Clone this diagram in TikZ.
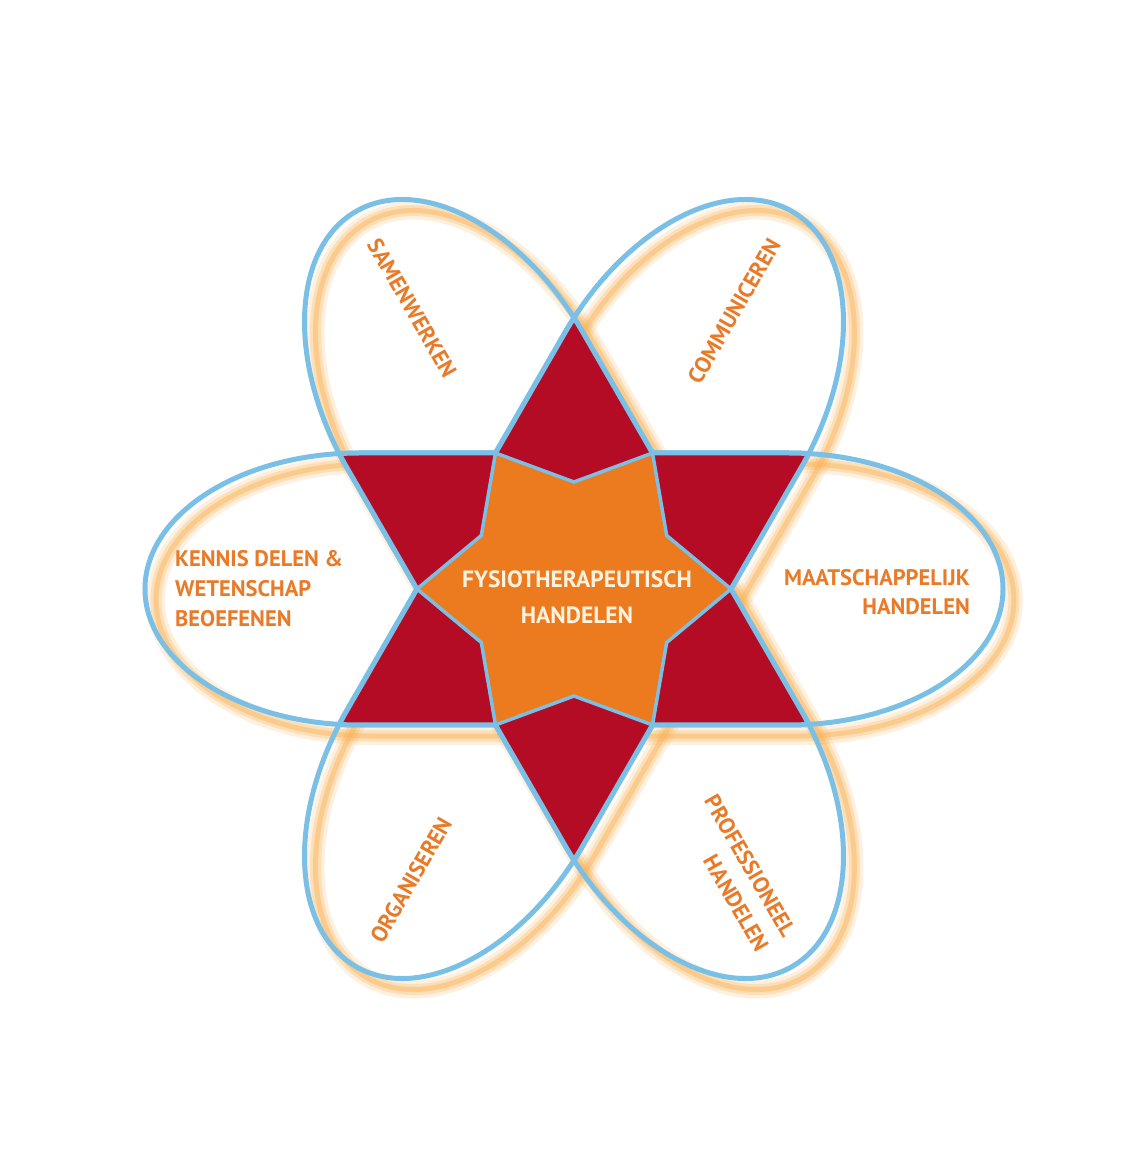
\documentclass[tikz,border=0pt]{standalone}
\usepackage{fontspec}
\setmainfont{PT Sans}
\definecolor{lineblue}{RGB}{122,192,230}
\definecolor{petal}{RGB}{180,12,36}
\definecolor{starfill}{RGB}{236,122,30}
\definecolor{labelor}{RGB}{232,122,40}
\definecolor{glow}{RGB}{250,176,80}
\definecolor{centertext}{RGB}{255,242,224}
% stadium-like oval: rotation, half straight length, cap radius
\newcommand\shp[3]{([rotate=#1]-#2,136) -- ([rotate=#1]#2,136)
  .. controls ([rotate=#1]#2+0.5523*#3,136) and ([rotate=#1]#2+#3,75.11) .. ([rotate=#1]#2+#3,0)
  .. controls ([rotate=#1]#2+#3,-75.11) and ([rotate=#1]#2+0.5523*#3,-136) .. ([rotate=#1]#2,-136)
  -- ([rotate=#1]-#2,-136)
  .. controls ([rotate=#1]-#2-0.5523*#3,-136) and ([rotate=#1]-#2-#3,-75.11) .. ([rotate=#1]-#2-#3,0)
  .. controls ([rotate=#1]-#2-#3,75.11) and ([rotate=#1]-#2-0.5523*#3,136) .. ([rotate=#1]-#2,136) -- cycle}
\newcommand\shH{\shp{0}{214.5}{214.5}}
\newcommand\shS{\shp{120}{218}{218}}
\newcommand\shC{\shp{60}{218}{218}}
\tikzset{
  ovalline/.style={draw=lineblue, line width=5pt},
  glowa/.style={draw=glow, line width=18pt, opacity=0.18},
  glowb/.style={draw=glow, line width=11pt, opacity=0.28},
  glowc/.style={draw=glow, line width=5pt, opacity=0.4},
  petalfill/.style={fill=petal},
  starshape/.style={fill=starfill, draw=lineblue, line width=3.5pt, line join=miter},
  lab/.style={font=\bfseries\fontsize{22.5}{27}\selectfont, text=labelor, inner sep=0pt},
  centerlab/.style={font=\bfseries\fontsize{23.5}{28}\selectfont, text=centertext, inner sep=0pt}
}
\begin{document}
\begin{tikzpicture}[x=1pt,y=1pt]
\useasboundingbox (-574,589) rectangle (559,-580);
\fill[white] (-574,589) rectangle (559,-580);
% soft orange shadows
\begin{scope}[shift={(11,-11)}]
  \foreach \g in {glowa,glowb,glowc}{
    \path[\g] \shH;
    \path[\g] \shS;
    \path[\g] \shC;
  }
\end{scope}
% oval outlines
\path[ovalline] \shH;
\path[ovalline] \shS;
\path[ovalline] \shC;
% red petals: region inside at least two ovals
\begin{scope}\clip \shH; \path[petalfill] \shS; \end{scope}
\begin{scope}\clip \shH; \path[petalfill] \shC; \end{scope}
\begin{scope}\clip \shS; \path[petalfill] \shC; \end{scope}
% outline of petal region
\begin{scope}[even odd rule]\clip \shS \shC; \path[ovalline] \shH; \end{scope}
\begin{scope}[even odd rule]\clip \shH \shC; \path[ovalline] \shS; \end{scope}
\begin{scope}[even odd rule]\clip \shH \shS; \path[ovalline] \shC; \end{scope}
% central star
\path[starshape] (0:157) -- (30:107) -- (60:157) -- (90:107) -- (120:157) -- (150:107)
  -- (180:157) -- (210:107) -- (240:157) -- (270:107) -- (300:157) -- (330:107) -- cycle;
% labels
\node[centerlab] (fysio) at (3,10) {FYSIOTHERAPEUTISCH};
\node[centerlab] (fysiob) at (3,-26) {HANDELEN};
\node[lab, anchor=west] (kennis) at (-399,30) {KENNIS DELEN \&};
\node[lab, anchor=west] (weten) at (-399,0) {WETENSCHAP};
\node[lab, anchor=west] (beoef) at (-399,-30) {BEOEFENEN};
\node[lab, anchor=east] (maat) at (396,11) {MAATSCHAPPELIJK};
\node[lab, anchor=east] (maatb) at (396,-18) {HANDELEN};
\node[lab, rotate=-60] (samen) at (-162,281) {SAMENWERKEN};
\node[lab, rotate=60] (comm) at (160,278) {COMMUNICEREN};
\node[lab, rotate=60] (organ) at (-163,-291) {ORGANISEREN};
\node[lab, rotate=-60, anchor=east] (prof) at (216,-346) {PROFESSIONEEL};
\node[lab, rotate=-60, anchor=east] (profb) at (189,-361) {HANDELEN};
\end{tikzpicture}
\end{document}
